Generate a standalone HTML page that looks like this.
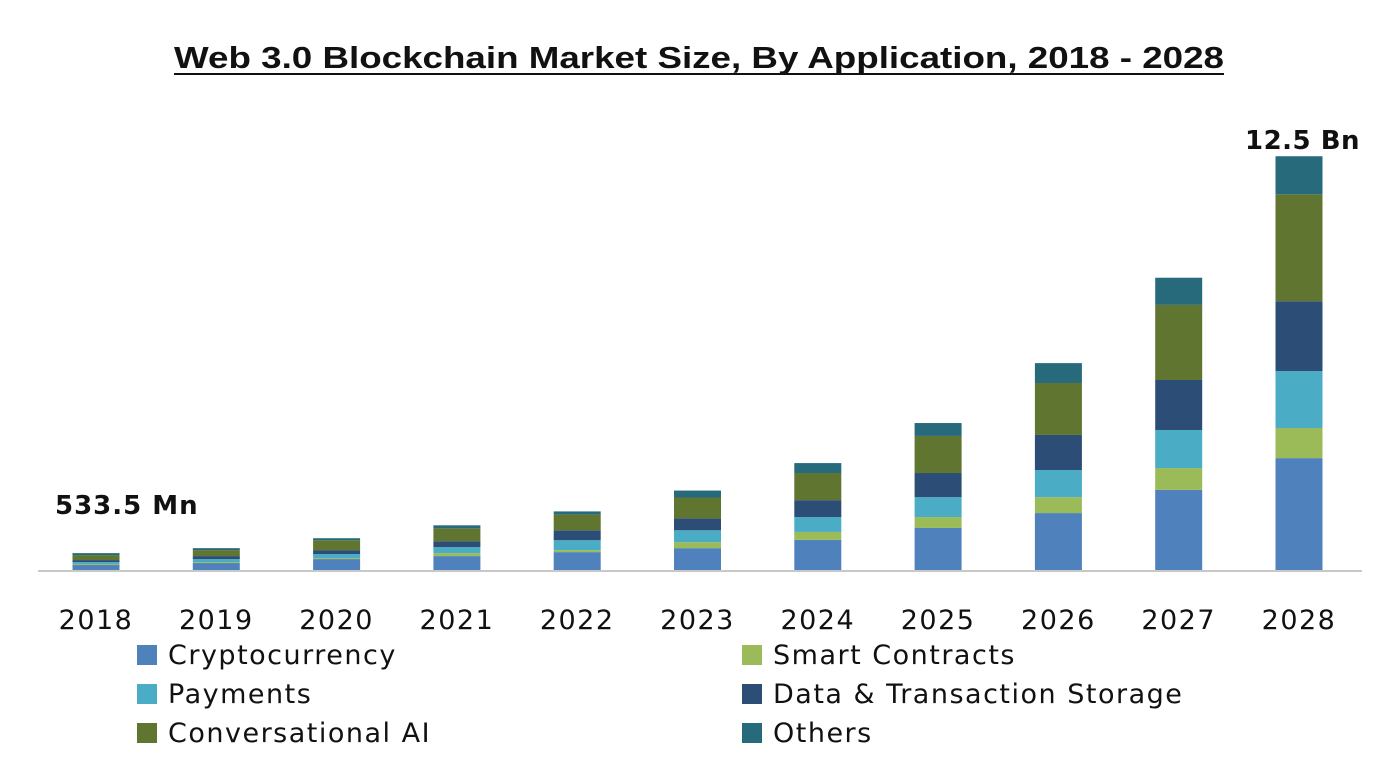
<!DOCTYPE html>
<html><head><meta charset="utf-8"><style>
html,body{margin:0;padding:0;background:#fff;}
svg{display:block;font-family:"DejaVu Sans","Liberation Sans",sans-serif;}
</style></head><body>
<svg id="chart" width="1400" height="761" viewBox="0 0 1400 761">
<text x="174" y="68" font-size="31" font-weight="bold" fill="#111" font-family="Liberation Sans, sans-serif" textLength="1050" lengthAdjust="spacingAndGlyphs">Web 3.0 Blockchain Market Size, By Application, 2018 - 2028</text>
<line x1="174" y1="74" x2="1224" y2="74" stroke="#111" stroke-width="2"/>
<line x1="38" y1="571" x2="1362" y2="571" stroke="#c8c8c8" stroke-width="2"/>
<g id="bars"></g>
<g id="xlabels"></g>
<text x="55" y="514" font-size="26" font-weight="bold" fill="#111" letter-spacing="1">533.5  Mn</text>
<text x="1245" y="149" font-size="26" font-weight="bold" fill="#111" letter-spacing="0.5">12.5 Bn</text>
<g id="legend"></g>
</svg>
<script>
const years = ["2018","2019","2020","2021","2022","2023","2024","2025","2026","2027","2028"];
const seriesNames = ["Cryptocurrency","Smart Contracts","Payments","Data & Transaction Storage","Conversational AI","Others"];
const crypto = [0.15,0.21,0.33,0.42,0.54,0.66,0.91,1.27,1.72,2.42,3.38];
const smart = [0.03,0.03,0.03,0.09,0.06,0.18,0.24,0.33,0.48,0.66,0.91];
const payments = [0.06,0.09,0.12,0.18,0.30,0.36,0.45,0.60,0.82,1.15,1.72];
const dataStorage = [0.06,0.09,0.12,0.18,0.30,0.36,0.51,0.73,1.06,1.51,2.11];
const convAI = [0.15,0.18,0.30,0.39,0.48,0.63,0.82,1.12,1.57,2.27,3.23];
const others = [0.06,0.06,0.06,0.09,0.09,0.21,0.30,0.39,0.60,0.82,1.15];

const series = [crypto, smart, payments, dataStorage, convAI, others];
const colors = ["#4f81bd","#9bbb59","#4bacc6","#2c4d75","#5f7530","#276a7c"];
const NS = "http://www.w3.org/2000/svg";
const baseY = 570, pxPerBn = 33.1;
const x0 = 96, step = 120.3, bw = 47;
const xScale = i => x0 + i * step;
const yScale = v => v * pxPerBn;
const barsG = document.getElementById('bars');
const xl = document.getElementById('xlabels');
years.forEach((yr, i) => {
  let cum = 0;
  series.forEach((s, k) => {
    const h = yScale(s[i]);
    const r = document.createElementNS(NS, 'rect');
    r.setAttribute('x', xScale(i) - bw / 2);
    r.setAttribute('y', baseY - yScale(cum) - h);
    r.setAttribute('width', bw);
    r.setAttribute('height', h);
    r.setAttribute('fill', colors[k]);
    
    
    barsG.appendChild(r);
    cum += s[i];
  });
  const t = document.createElementNS(NS, 'text');
  t.setAttribute('x', xScale(i));
  t.setAttribute('y', 629);
  t.setAttribute('text-anchor', 'middle');
  t.setAttribute('font-size', '27');
  t.setAttribute('letter-spacing', '1.5');
  t.setAttribute('fill', '#111');
  t.textContent = yr;
  
  
  xl.appendChild(t);
});
const legend = document.getElementById('legend');
const legendOrder = [0, 1, 2, 3, 4, 5];
legendOrder.forEach((k, j) => {
  const col = j % 2, row = Math.floor(j / 2);
  const lx = col === 0 ? 137 : 742, ly = 645 + row * 39;
  const sq = document.createElementNS(NS, 'rect');
  sq.setAttribute('x', lx); sq.setAttribute('y', ly);
  sq.setAttribute('width', 20); sq.setAttribute('height', 20);
  sq.setAttribute('fill', colors[k]);
  
  
  legend.appendChild(sq);
  const t = document.createElementNS(NS, 'text');
  t.setAttribute('x', lx + 31); t.setAttribute('y', ly + 19);
  t.setAttribute('font-size', '27'); t.setAttribute('fill', '#111');
  t.setAttribute('letter-spacing', '1.5');
  t.textContent = seriesNames[k];
  
  
  legend.appendChild(t);
});
</script>
</body></html>
